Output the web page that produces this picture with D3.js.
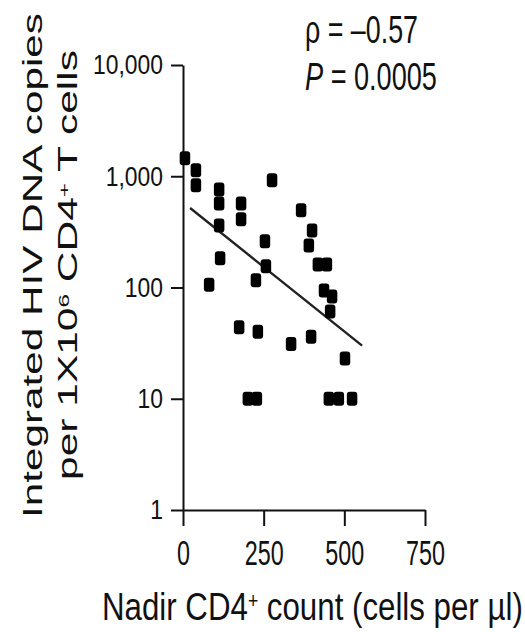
<!DOCTYPE html>
<html>
<head>
<meta charset="utf-8">
<script src="https://cdn.jsdelivr.net/npm/d3@7"></script>
<style>
  html, body { margin: 0; padding: 0; background: #fff; }
  svg { display: block; }
  text { font-family: "Liberation Sans", Arial, Helvetica, sans-serif; fill: #111; }
</style>
</head>
<body>
<svg id="chart" width="525" height="632"></svg>
<script>
// Nadir CD4+ count (cells per µl) for each participant
const nadirCD4 = [6, 40, 40, 112, 112, 180, 180, 276, 112, 115, 81, 254, 257, 226, 174, 232,
                  201, 229, 366, 400, 390, 418, 446, 437, 462, 456, 335, 397, 502, 452, 483, 524];
// Integrated HIV DNA copies per 1x10^6 CD4+ T cells (10 = lower detection value)
const integratedDNA = [1450, 1130, 830, 760, 570, 570, 410, 920, 360, 183, 106, 260, 155, 116, 44, 40,
                       10, 10, 494, 326, 239, 161, 161, 94, 83, 61, 31, 36, 23, 10, 10, 10];

// Fitted trend line end points
const fitNadir = [22, 555];
const fitDNA = [518, 30];

const xTicks = [0, 250, 500, 750];
const xTickLabels = ["0", "250", "500", "750"];
const yTicks = [1, 10, 100, 1000, 10000];
const yTickLabels = ["1", "10", "100", "1,000", "10,000"];

const rhoText = "\u03c1 = \u20130.57";
const pValueText = "0.0005";

const svg = d3.select("#chart");
const ink = "#111";

const x = d3.scaleLinear().domain([0, 750]).range([183, 425]);
const y = d3.scaleLog().domain([1, 10000]).range([510, 65]);

// Horizontal squeeze factor so a text element spans the given width
function fitWidth(textSel, target) {
  const w = textSel.node().getBBox().width;
  return target / w;
}

// ---- Y axis ----
const yAxis = svg.append("g")
  .attr("transform", `translate(${x(0)},0)`)
  .call(d3.axisLeft(y).tickValues(yTicks)
    .tickFormat((d, i) => yTickLabels[i])
    .tickSize(12).tickSizeOuter(0).tickPadding(8));
yAxis.select(".domain").attr("stroke", ink).attr("stroke-width", 2);
yAxis.selectAll(".tick line").attr("stroke", ink).attr("stroke-width", 2);
yAxis.selectAll(".tick text")
  .attr("font-size", 28).attr("fill", "#1a1a1a")
  .attr("font-family", "Liberation Sans, Arial, sans-serif");
{
  const widest = yAxis.selectAll(".tick text").filter((d) => d === 10000);
  const k = fitWidth(widest, 70);
  yAxis.selectAll(".tick text").each(function () {
    const t = d3.select(this);
    const x0 = +t.attr("x");
    t.attr("x", 0).attr("transform", `translate(${x0},0) scale(${k},1)`);
  });
}

// ---- X axis ----
const xAxis = svg.append("g")
  .attr("transform", `translate(0,${y(1)})`)
  .call(d3.axisBottom(x).tickValues(xTicks)
    .tickFormat((d, i) => xTickLabels[i])
    .tickSize(16).tickSizeOuter(0).tickPadding(14));
xAxis.select(".domain").attr("stroke", ink).attr("stroke-width", 2);
xAxis.selectAll(".tick line").attr("stroke", ink).attr("stroke-width", 2);
xAxis.selectAll(".tick text")
  .attr("font-size", 35).attr("fill", "#1a1a1a")
  .attr("font-family", "Liberation Sans, Arial, sans-serif");
{
  const ref = xAxis.selectAll(".tick text").filter((d) => d === 250);
  const k = fitWidth(ref, 39);
  xAxis.selectAll(".tick text").attr("transform", `scale(${k},1)`);
}

// ---- Trend line ----
const fitPts = fitNadir.map((v, i) => [v, fitDNA[i]]);
svg.append("path")
  .datum(fitPts)
  .attr("fill", "none")
  .attr("stroke", "#222")
  .attr("stroke-width", 2.4)
  .attr("d", d3.line().x((d) => x(d[0])).y((d) => y(d[1])));

// ---- Points ----
const pts = nadirCD4.map((v, i) => ({ n: v, dna: integratedDNA[i] }));
const mw = 10.5, mh = 14;
svg.append("g").selectAll("rect")
  .data(pts)
  .join("rect")
  .attr("x", (d) => x(d.n) - mw / 2)
  .attr("y", (d) => y(d.dna) - mh / 2)
  .attr("width", mw)
  .attr("height", mh)
  .attr("rx", 3)
  .attr("fill", "#000");

// ---- Axis titles ----
const xTitle = svg.append("text")
  .attr("font-size", 39)
  .attr("text-anchor", "start");
xTitle.append("tspan").text("Nadir CD4");
xTitle.append("tspan").attr("font-size", 22).attr("baseline-shift", "55%").text("+");
xTitle.append("tspan").text(" count (cells per \u00b5l)");
{
  const k = fitWidth(xTitle, 421);
  xTitle.attr("transform", `translate(102,620) scale(${k},1)`);
}

const yTitle1 = svg.append("text")
  .attr("font-size", 42)
  .attr("text-anchor", "middle")
  .text("Integrated HIV DNA copies");
{
  const k = fitWidth(yTitle1, 505);
  yTitle1.attr("transform", `translate(42,265.5) rotate(-90) scale(${k},0.64)`);
}

const yTitle2 = svg.append("text")
  .attr("font-size", 42)
  .attr("text-anchor", "middle");
yTitle2.append("tspan").text("per 1X10");
yTitle2.append("tspan").attr("font-size", 24).attr("baseline-shift", "55%").text("6");
yTitle2.append("tspan").text(" CD4");
yTitle2.append("tspan").attr("font-size", 24).attr("baseline-shift", "55%").text("+");
yTitle2.append("tspan").text(" T cells");
{
  const k = fitWidth(yTitle2, 430);
  yTitle2.attr("transform", `translate(77,265) rotate(-90) scale(${k},0.64)`);
}

// ---- Correlation statistics ----
const rho = svg.append("text")
  .attr("font-size", 39)
  .text(rhoText);
{
  const k = fitWidth(rho, 113);
  rho.attr("transform", `translate(305,43) scale(${k},1)`);
}
const pv = svg.append("text").attr("font-size", 39);
pv.append("tspan").attr("font-style", "italic").text("P");
pv.append("tspan").text(" = " + pValueText);
{
  const k = fitWidth(pv, 132);
  pv.attr("transform", `translate(305,90) scale(${k},1)`);
}
</script>
</body>
</html>
